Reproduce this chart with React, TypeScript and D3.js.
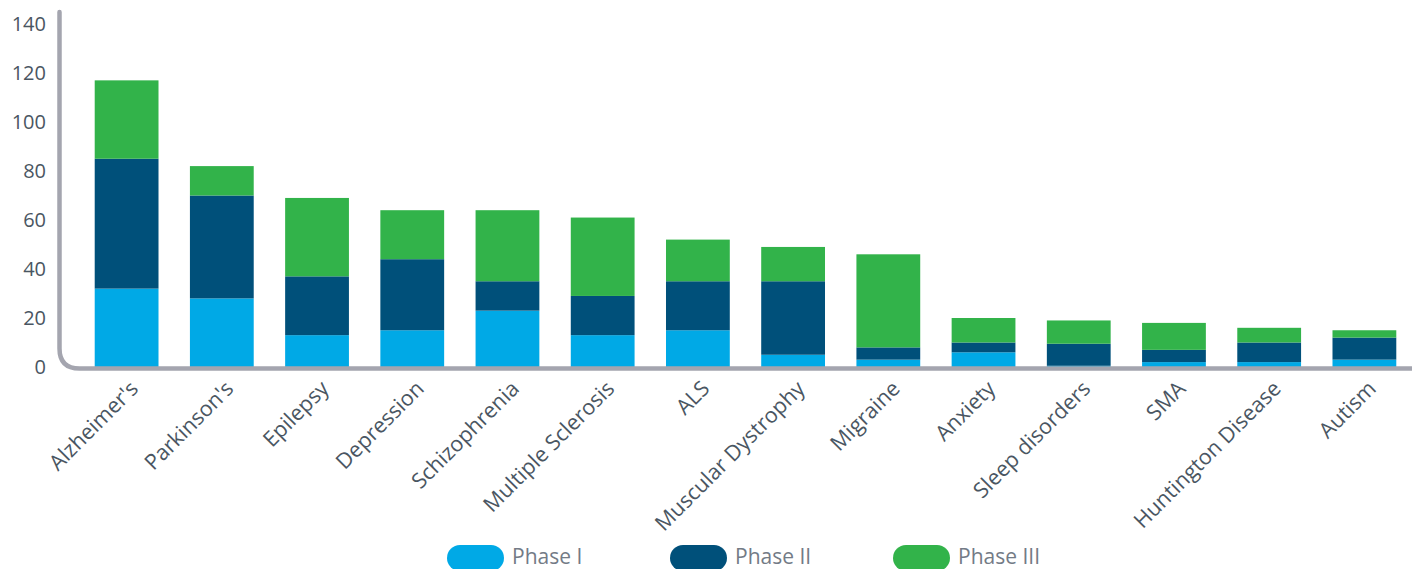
import * as d3 from 'd3';

const width = 1412;
const height = 569;
const marginLeft = 79;
const y0 = 367; // baseline of the bars
const yTop = 24; // pixel for the top tick
const axisY = 368.5;
const axisX = 59.5;
const cornerR = 20;

const categories = [
  "Alzheimer's",
  "Parkinson's",
  'Epilepsy',
  'Depression',
  'Schizophrenia',
  'Multiple Sclerosis',
  'ALS',
  'Muscular Dystrophy',
  'Migraine',
  'Anxiety',
  'Sleep disorders',
  'SMA',
  'Huntington Disease',
  'Autism',
];
const phase1 = [32, 28, 13, 15, 23, 13, 15, 5, 3, 6, 0.5, 2, 2, 3];
const phase2 = [53, 42, 24, 29, 12, 16, 20, 30, 5, 4, 9, 5, 8, 9];
const phase3 = [32, 12, 32, 20, 29, 32, 17, 14, 38, 10, 9.5, 11, 6, 3];
const seriesNames = ['Phase I', 'Phase II', 'Phase III'];
const colors = ['#00a9e6', '#00507a', '#32b34a'];
const yTicks = [0, 20, 40, 60, 80, 100, 120, 140];

const rows = categories.map((c, i) => ({
  name: c,
  'Phase I': phase1[i],
  'Phase II': phase2[i],
  'Phase III': phase3[i],
}));

export default function App() {
  const x = d3
    .scaleBand()
    .domain(categories)
    .range([marginLeft, width])
    .paddingInner(0.33)
    .paddingOuter(0.165);
  const y = d3.scaleLinear().domain([0, 140]).range([y0, yTop]);

  const stack = d3.stack().keys(seriesNames)(rows as any);

  const axisPath = `M${axisX},12 L${axisX},${axisY - cornerR} Q${axisX},${axisY} ${axisX + cornerR},${axisY} L${width},${axisY}`;

  return (
    <svg
      width={width}
      height={height}
      style={{ position: 'absolute', left: 0, top: 0, fontFamily: "'Open Sans', 'Noto Sans', sans-serif" }}
    >
      {/* bars */}
      {stack.map((layer, si) => (
        <g key={seriesNames[si]} fill={colors[si]}>
          {layer.map((d, i) => (
            <rect
              key={categories[i]}
              x={x(categories[i])}
              y={y(d[1])}
              width={x.bandwidth()}
              height={y(d[0]) - y(d[1])}
            />
          ))}
        </g>
      ))}

      {/* axis line with rounded corner */}
      <path d={axisPath} fill="none" stroke="#a4a5af" strokeWidth={4.5} strokeLinecap="round" />

      {/* y tick labels */}
      {yTicks.map((t) => (
        <text key={t} x={46} y={y(t)} dy="0.35em" textAnchor="end" fontSize={20} fill="#4a5662">
          {t}
        </text>
      ))}

      {/* x labels */}
      {categories.map((c) => {
        const cx = (x(c) as number) + x.bandwidth() / 2 + 13;
        const cy = 390;
        return (
          <text
            key={c}
            x={cx}
            y={cy}
            textAnchor="end"
            fontSize={21.5}
            fill="#4a5662"
            transform={`rotate(-45 ${cx} ${cy})`}
          >
            {c}
          </text>
        );
      })}

      {/* legend */}
      {seriesNames.map((s, i) => {
        const lx = 447 + i * 223;
        return (
          <g key={s} transform={`translate(${lx},545)`}>
            <rect width={57} height={26} rx={13} fill={colors[i]} />
            <text x={65} y={19} fontSize={21} fill="#737b86">
              {s}
            </text>
          </g>
        );
      })}
    </svg>
  );
}
